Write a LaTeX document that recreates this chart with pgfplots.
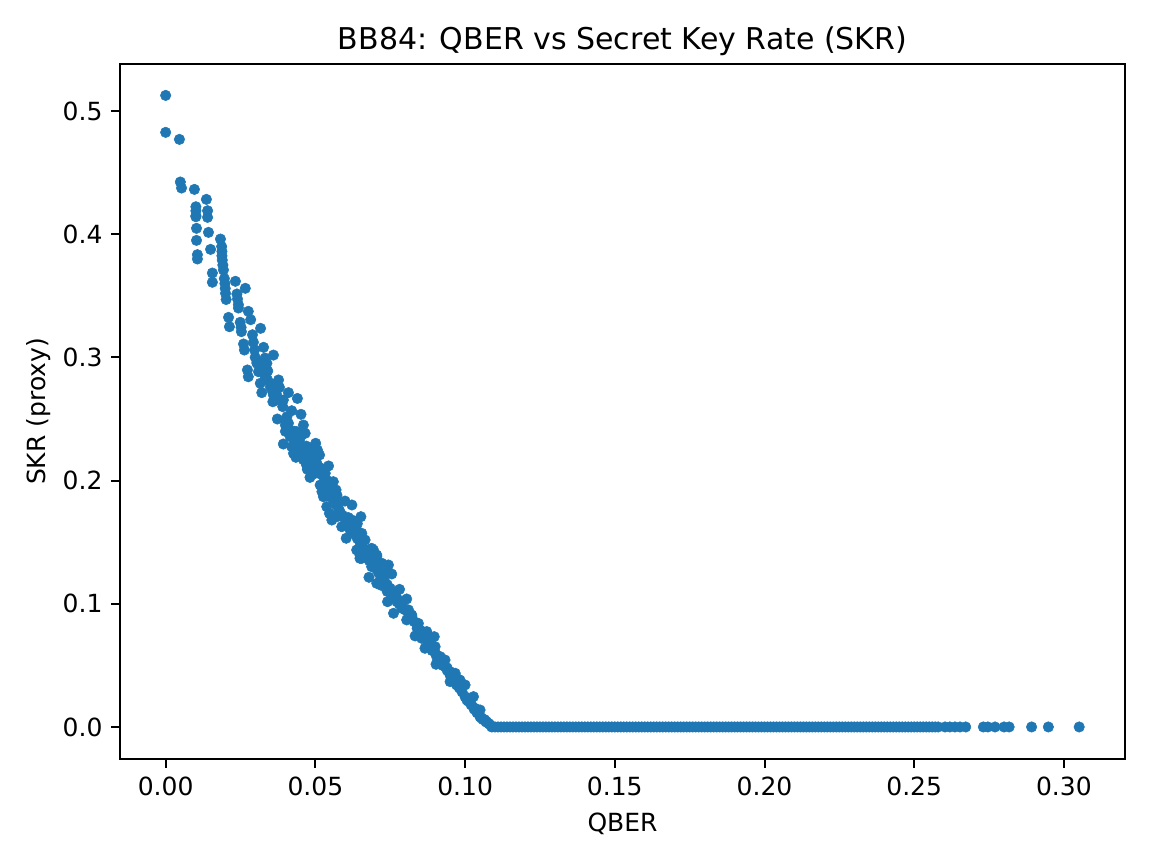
\documentclass[border=0pt]{standalone}
\usepackage{fontspec}
\setmainfont{DejaVu Sans}
\usepackage{pgfplots}
\pgfplotsset{compat=1.18}
\definecolor{tabblue}{HTML}{1F77B4}

\newcommand{\tenbp}{\fontsize{10bp}{12bp}\selectfont}
\newcommand{\twelvebp}{\fontsize{12bp}{14.4bp}\selectfont}

\begin{document}
\begin{tikzpicture}
\begin{axis}[
    name=ax,
    scale only axis,
    width=402bp,
    height=278bp,
    xmin=-0.01525, xmax=0.3204,
    ymin=-0.026, ymax=0.5382,
    xtick={0,0.05,0.10,0.15,0.20,0.25,0.30},
    ytick={0,0.1,0.2,0.3,0.4,0.5},
    xticklabels={0.00,0.05,0.10,0.15,0.20,0.25,0.30},
    yticklabels={0.0,0.1,0.2,0.3,0.4,0.5},
    tick align=outside,
    tick pos=left,
    major tick length=3.5bp,
    every tick/.style={black,line width=0.8bp},
    axis line style={line width=0.8bp},
    tick label style={font=\tenbp},
    title={BB84: QBER vs Secret Key Rate (SKR)},
    title style={font=\twelvebp,at={(0.5,1)},anchor=base},
    xlabel={QBER},
    ylabel={SKR (proxy)},
    xlabel style={font=\tenbp},
    ylabel style={font=\tenbp,yshift=-2bp},
]
\addplot[only marks, mark=*, mark size=2.1bp, mark options={draw=tabblue,fill=tabblue,line width=0.2bp}] coordinates {
(0,.5127)(0,.4827)(.0046,.4770)(.0049,.4424)(.0053,.4375)(.0096,.4364)(.0136,.4283)(.0140,.4191)(.0140,.4137)
(.0101,.4223)(.0101,.4190)(.0101,.4150)(.0101,.4142)(.0103,.4048)(.0143,.4015)(.0103,.3950)(.0183,.3961)
(.0150,.3877)(.0106,.3834)(.0106,.3799)(.0156,.3685)(.0156,.3610)(.0233,.3618)(.0266,.3561)
(.0187,.3900)(.0188,.3860)(.0188,.3825)(.0189,.3790)(.0191,.3750)(.0193,.3710)(.0196,.3640)(.0198,.3600)
(.0199,.3560)(.0200,.3520)(.0202,.3470)
(.0238,.3515)(.0240,.3474)(.0243,.3428)(.0243,.3401)(.0276,.3374)(.0284,.3306)(.0210,.3325)(.0213,.3249)
(.0249,.3285)(.0252,.3244)(.0253,.3209)(.0317,.3236)(.0290,.3184)(.0293,.3123)(.0260,.3109)(.0263,.3060)
(.0327,.3082)(.0297,.3060)(.0299,.3001)(.0360,.3019)(.0332,.2995)(.0305,.2960)
(.0305,.2952)(.0310,.2884)(.0338,.2952)(.0341,.2890)(.0273,.2898)(.0276,.2843)(.0316,.2790)(.0321,.2714)
(.0377,.2817)(.0380,.2757)(.0371,.2735)(.0360,.2695)(.0358,.2640)(.0349,.2790)(.0355,.2735)(.0410,.2714)
(.0440,.2667)(.0393,.2654)(.0391,.2600)(.0421,.2567)(.0452,.2538)(.0373,.2500)(.0405,.2519)(.0410,.2465)
(.0413,.2397)(.0416,.2356)(.0460,.2451)(.0466,.2384)(.0438,.2397)(.0443,.2329)(.0393,.2297)(.0421,.2275)
(.0427,.2221)(.0435,.2189)(.0449,.2289)(.0455,.2248)(.0501,.2303)(.0482,.2235)(.0507,.2248)(.0514,.2208)
(.0466,.2208)(.0494,.2167)(.0505,.2140)(.0544,.2119)(.0533,.2059)(.0516,.2086)(.0473,.2092)(.0482,.2026)
(.0499,.2059)(.0560,.1991)(.0569,.1924)(.0572,.1883)(.0516,.1964)(.0522,.1910)(.0527,.1869)(.0544,.1924)
(.0549,.1869)(.0599,.1834)(.0622,.1802)(.0577,.1815)(.0538,.1788)(.0547,.1734)(.0555,.1680)(.0572,.1707)
(.0588,.1626)(.0652,.1707)(.0622,.1680)(.0633,.1640)(.0603,.1532)(.0616,.1599)(.0638,.1599)(.0655,.1572)
(.0666,.1518)(.0688,.1450)(.0677,.1423)(.0705,.1382)(.0649,.1396)(.0655,.1369)(.0638,.1437)(.0649,.1369)
(.0660,.1518)(.0694,.1437)(.0705,.1396)(.0744,.1315)(.0755,.1242)(.0722,.1329)(.0679,.1215)(.0705,.1166)
(.0688,.1301)(.0716,.1234)(.0733,.1166)(.0781,.1117)(.0750,.1098)(.0741,.1017)(.0761,.0923)(.0805,.1039)
(.0772,.1017)(.0789,.0963)(.0811,.0950)(.0822,.0895)(.0844,.0841)(.0805,.0869)(.0833,.0739)(.0872,.0774)
(.0897,.0733)(.0850,.0787)(.0855,.0720)(.0866,.0639)(.0900,.0652)(.0883,.0666)(.0903,.0509)(.0933,.0544)
(.0917,.0571)(.0967,.0436)(.0950,.0449)(.0950,.0368)(.0972,.0341)(.1000,.0341)(.0983,.0381)(.1011,.0219)
(.1028,.0246)(.1050,.0138)(.1033,.0152)(.1072,.0043)(.1055,.0071)(.1089,0)
(.0400,.2450)(.0430,.2400)(.0450,.2350)(.0470,.2280)(.0490,.2250)(.0520,.2100)(.0540,.2000)(.0555,.1950)
(.0560,.1850)(.0580,.1750)(.0610,.1700)(.0640,.1650)(.0660,.1450)(.0680,.1350)(.0700,.1300)(.0730,.1250)
(.0720,.1150)(.0740,.1100)(.0760,.1050)(.0780,.1000)(.0800,.0950)(.0822,.0909)(.0840,.0800)(.0861,.0733)
(.0880,.0700)(.0890,.0620)(.0905,.0571)(.0925,.0500)(.0940,.0480)(.0950,.0422)(.0975,.0390)(.0985,.0310)
(.1006,.0219)(.1020,.0190)(.1040,.0120)(.1050,.0084)(.1065,.0060)(.1080,.0025)
(.0320,.2910)(.0330,.2860)(.0340,.2820)(.0350,.2760)(.0370,.2700)(.0380,.2650)(.0400,.2480)(.0400,.2400)
(.0410,.2430)(.0420,.2370)(.0430,.2340)(.0440,.2270)(.0450,.2220)(.0460,.2170)(.0470,.2130)(.0480,.2100)(.0490,.2120)
(.0500,.2140)(.0510,.2100)(.0520,.2050)(.0530,.2000)(.0540,.1960)(.0550,.1900)(.0560,.1850)(.0570,.1800)
(.0580,.1760)(.0590,.1720)(.0600,.1680)(.0610,.1650)(.0620,.1610)(.0630,.1570)(.0640,.1530)(.0650,.1490)
(.0660,.1450)(.0670,.1410)(.0680,.1370)(.0690,.1330)
(.0700,.1290)(.0710,.1255)(.0720,.1225)(.0730,.1190)(.0740,.1155)(.0750,.1125)(.0760,.1090)(.0770,.1060)
(.0780,.1025)(.0790,.0990)(.0800,.0955)(.0810,.0925)(.0820,.0890)(.0830,.0855)(.0840,.0825)(.0850,.0785)
(.0860,.0745)(.0870,.0710)(.0880,.0680)(.0890,.0640)(.0900,.0605)(.0910,.0565)(.0920,.0530)(.0930,.0495)
(.0940,.0460)(.0950,.0425)(.0960,.0390)(.0970,.0355)(.0980,.0320)(.0990,.0285)(.1000,.0245)(.1010,.0210)
(.1020,.0180)(.1030,.0145)(.1040,.0115)(.1050,.0085)(.1060,.0060)(.1070,.0040)(.1080,.0025)(.1090,.0005)
(.110,0)(.111,0)(.112,0)(.113,0)(.114,0)(.115,0)(.116,0)(.117,0)(.118,0)(.119,0)
(.120,0)(.121,0)(.122,0)(.123,0)(.124,0)(.125,0)(.126,0)(.127,0)(.128,0)(.129,0)
(.130,0)(.131,0)(.132,0)(.133,0)(.134,0)(.135,0)(.136,0)(.137,0)(.138,0)(.139,0)
(.140,0)(.141,0)(.142,0)(.143,0)(.144,0)(.145,0)(.146,0)(.147,0)(.148,0)(.149,0)
(.150,0)(.151,0)(.152,0)(.153,0)(.154,0)(.155,0)(.156,0)(.157,0)(.158,0)(.159,0)
(.160,0)(.161,0)(.162,0)(.163,0)(.164,0)(.165,0)(.166,0)(.167,0)(.168,0)(.169,0)
(.170,0)(.171,0)(.172,0)(.173,0)(.174,0)(.175,0)(.176,0)(.177,0)(.178,0)(.179,0)
(.180,0)(.181,0)(.182,0)(.183,0)(.184,0)(.185,0)(.186,0)(.187,0)(.188,0)(.189,0)
(.190,0)(.191,0)(.192,0)(.193,0)(.194,0)(.195,0)(.196,0)(.197,0)(.198,0)(.199,0)
(.200,0)(.201,0)(.202,0)(.203,0)(.204,0)(.205,0)(.206,0)(.207,0)(.208,0)(.209,0)
(.210,0)(.211,0)(.212,0)(.213,0)(.214,0)(.215,0)(.216,0)(.217,0)(.218,0)(.219,0)
(.220,0)(.221,0)(.222,0)(.223,0)(.224,0)(.225,0)(.226,0)(.227,0)(.228,0)(.229,0)
(.230,0)(.231,0)(.232,0)(.233,0)(.234,0)(.235,0)(.236,0)(.237,0)(.238,0)(.239,0)
(.240,0)(.241,0)(.242,0)(.243,0)(.244,0)(.245,0)(.246,0)(.247,0)(.248,0)(.249,0)
(.250,0)(.251,0)(.252,0)(.253,0)(.254,0)(.255,0)(.256,0)(.257,0)(.258,0)
(.2603,0)(.2619,0)(.2636,0)(.2653,0)(.2672,0)(.2731,0)(.2746,0)(.2770,0)(.2800,0)(.2817,0)(.2892,0)(.2948,0)(.3051,0)
};
\end{axis}
\path ([shift={(-48bp,-42bp)}]ax.south west) rectangle ([shift={(10.8bp,25.6bp)}]ax.north east);
\end{tikzpicture}
\end{document}
